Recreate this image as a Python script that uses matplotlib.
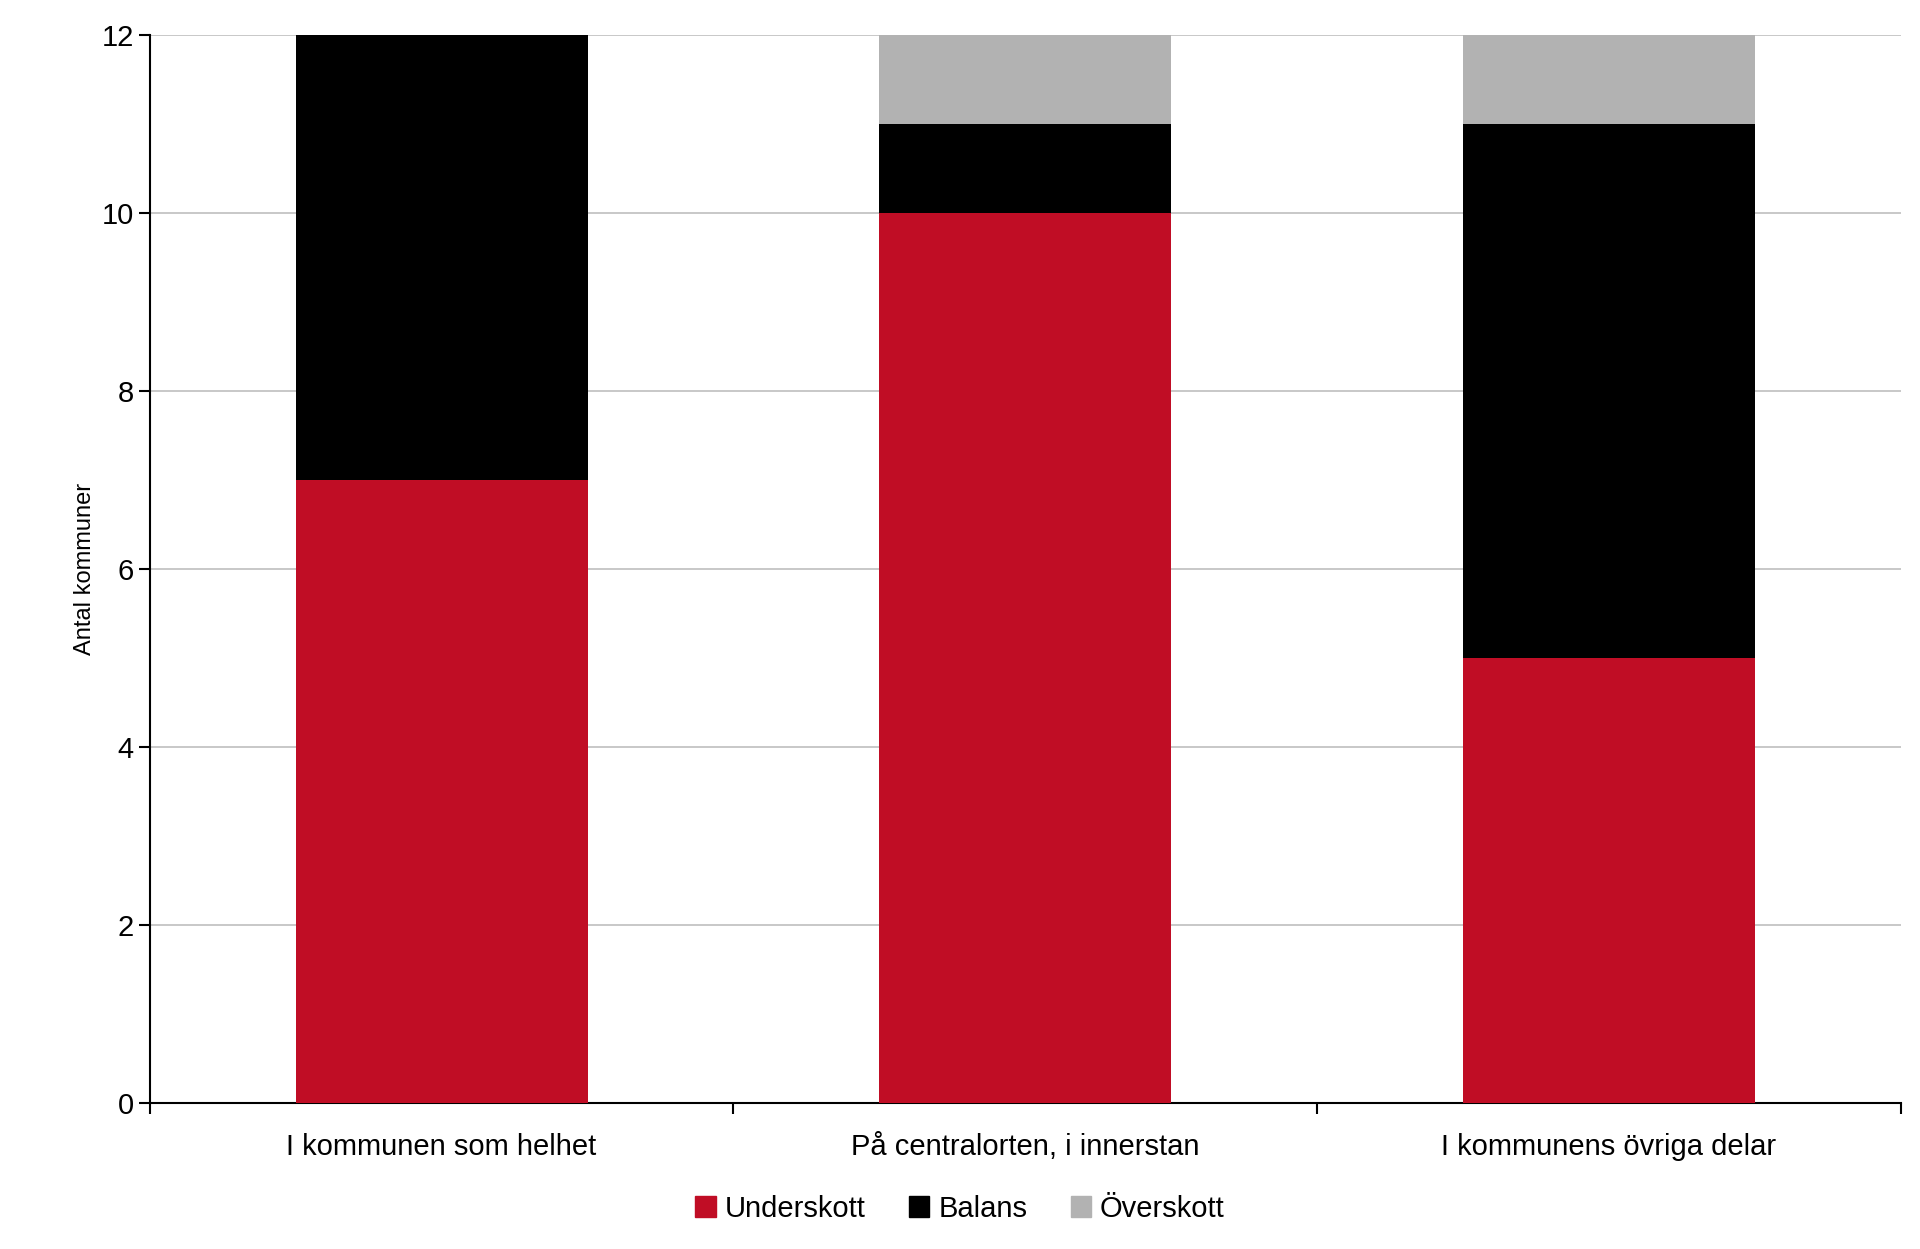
import matplotlib
matplotlib.use("Agg")
import matplotlib.pyplot as plt
import numpy as np
from matplotlib.patches import Patch

plt.rcParams['font.family'] = ['Liberation Sans', 'DejaVu Sans']

categories = ["I kommunen som helhet", "På centralorten, i innerstan", "I kommunens övriga delar"]
underskott = [7, 10, 5]
balans = [5, 1, 6]
overskott = [0, 1, 1]
series = ["Underskott", "Balans", "Överskott"]
colors = ["#C00D25", "#000000", "#B2B2B2"]

fig = plt.figure(figsize=(19.2, 12.49), dpi=100)
ax = fig.add_axes([0.078, 0.117, 0.912, 0.855])
x = np.arange(len(categories))
bottom = np.zeros(len(categories))
for vals, c, lab in zip([underskott, balans, overskott], colors, series):
    ax.bar(x, vals, 0.5, bottom=bottom, color=c, label=lab, zorder=3)
    bottom += np.array(vals)

ax.set_xlim(-0.5, len(categories) - 0.5)
ax.set_ylim(0, 12)
ax.set_yticks(range(0, 13, 2))
ax.yaxis.grid(True, color="#BFBFBF", linewidth=1.2, zorder=0)
ax.set_xticks(x)
ax.set_xticklabels(categories)
ax.set_xticks(np.arange(-0.5, len(categories)), minor=True)
ax.tick_params(axis='x', which='major', length=0, labelsize=21, pad=22)
ax.tick_params(axis='x', which='minor', length=8, width=1.5, direction='out')
ax.tick_params(axis='y', labelsize=21, length=8, width=1.5, direction='out')
for s in ['top', 'right']:
    ax.spines[s].set_visible(False)
for s in ['left', 'bottom']:
    ax.spines[s].set_linewidth(1.5)
ax.set_ylabel("Antal kommuner", fontsize=17)

handles = [Patch(color=c, label=l) for c, l in zip(colors, series)]
fig.legend(handles=handles, loc='lower center', bbox_to_anchor=(0.5, 0.0), ncol=3,
           frameon=False, fontsize=21, handlelength=0.7, handleheight=0.7,
           handletextpad=0.3, columnspacing=1.5)
fig.savefig("out.png", dpi=100, facecolor="white")
